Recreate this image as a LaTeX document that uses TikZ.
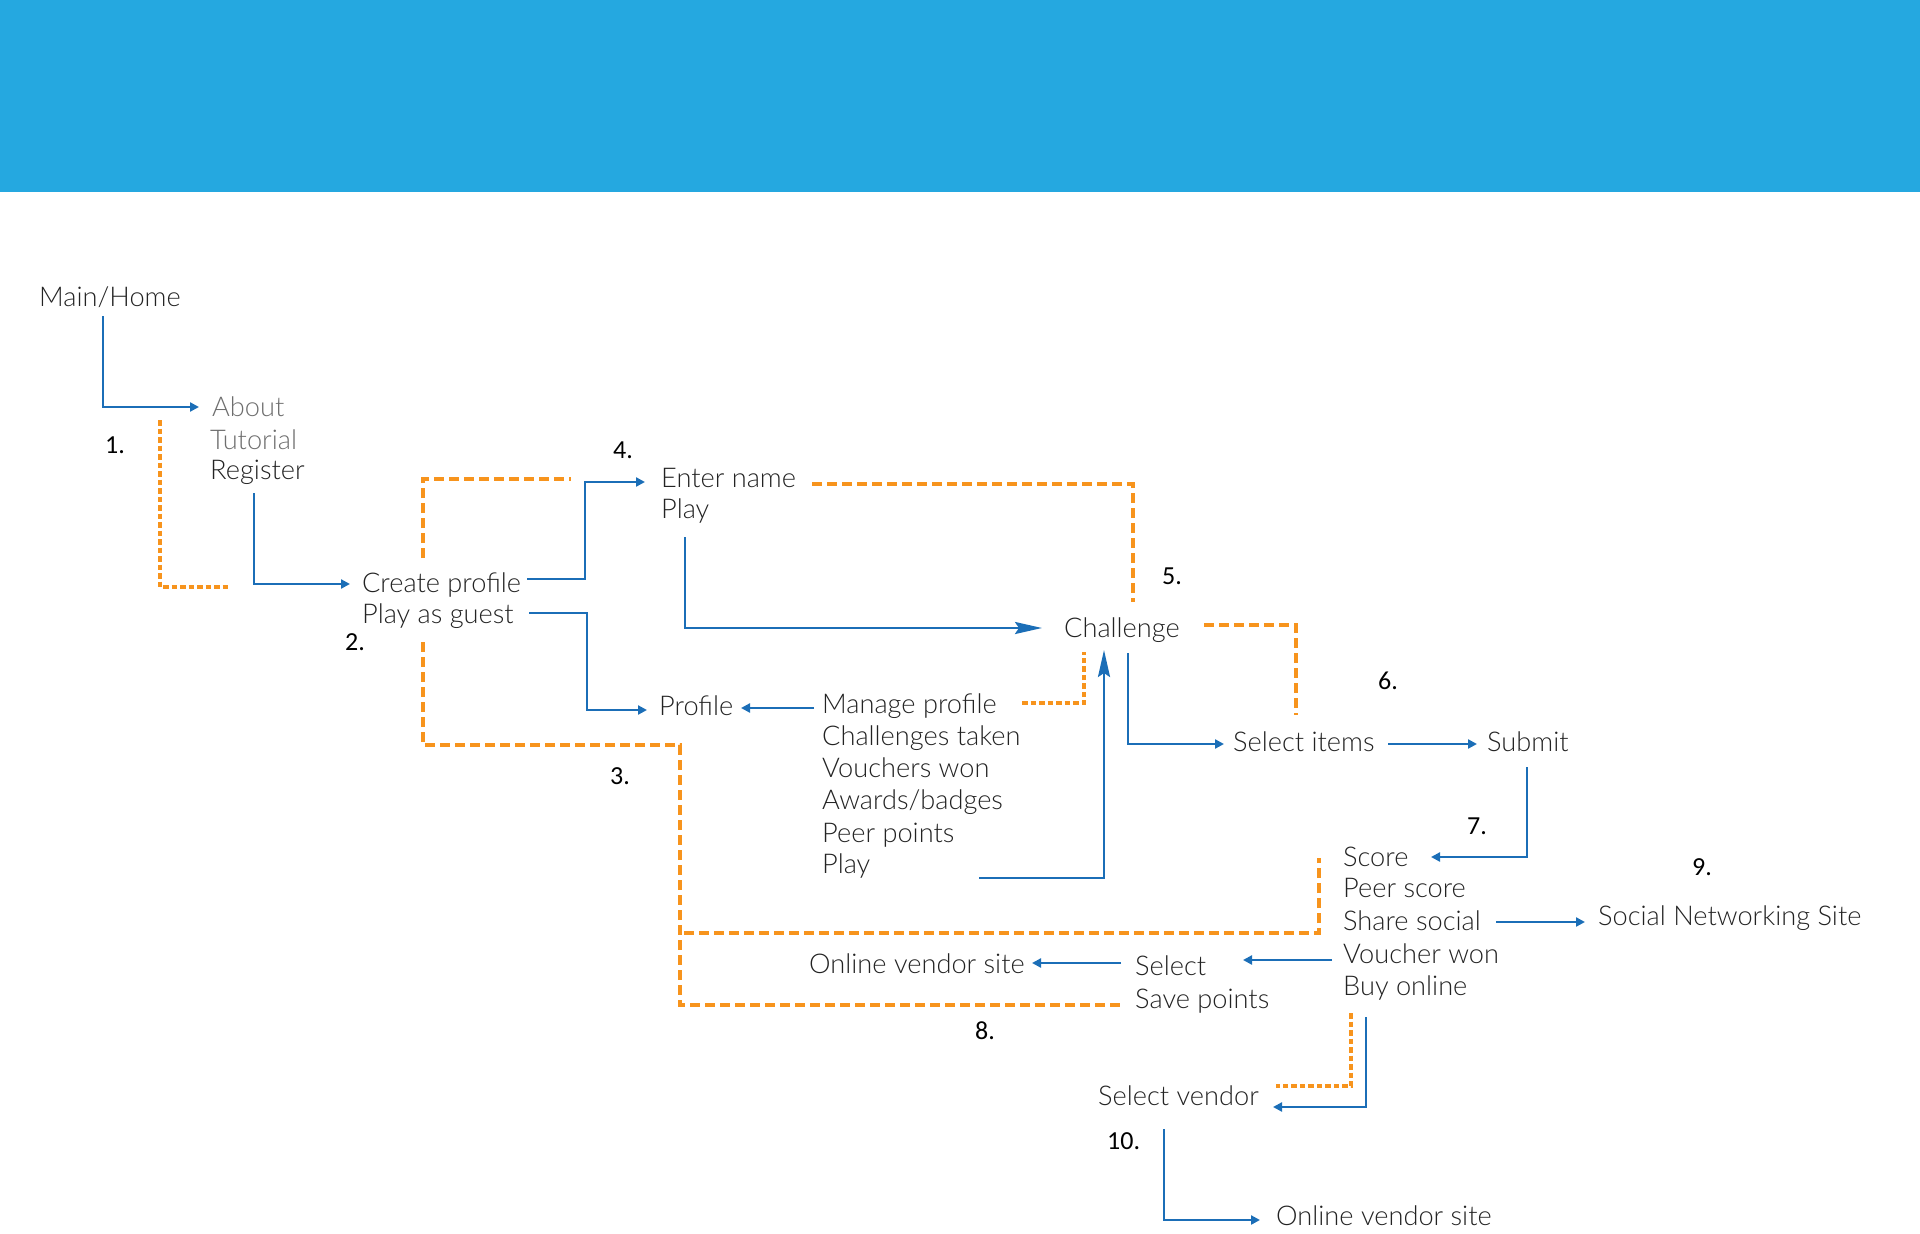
\documentclass[tikz,border=0pt]{standalone}
\usepackage{fontspec}
\usetikzlibrary{arrows.meta}
\newfontfamily\lt{Lato Light}
\newfontfamily\numf{Carlito}
\definecolor{hdr}{RGB}{37,168,224}
\definecolor{bluec}{RGB}{27,110,183}
\definecolor{orc}{RGB}{247,148,29}
\definecolor{txtc}{RGB}{35,35,35}
\definecolor{grayc}{RGB}{110,110,110}
\tikzset{
  txt/.style={font=\lt\fontsize{27.2}{32}\selectfont, text=txtc, anchor=base west, inner sep=0pt},
  gtxt/.style={txt, text=grayc},
  num/.style={font=\numf\fontsize{26}{30}\selectfont, text=black, anchor=base west, inner sep=0pt},
  bl/.style={draw=bluec, line width=2.5pt, -{Triangle[length=9pt,width=9pt]}},
  blbig/.style={draw=bluec, line width=2.5pt, -{Stealth[length=27pt,width=12pt,inset=4pt]}},
  ordot/.style={draw=orc, line width=4pt, dash pattern=on 5.5pt off 3pt},
  ordash/.style={draw=orc, line width=4pt, dash pattern=on 10pt off 5pt},
}
\begin{document}
\begin{tikzpicture}[x=1pt,y=-1pt]
\useasboundingbox (0,0) rectangle (1920,1234);
\fill[hdr] (0,0) rectangle (1920,192);
% texts
\node[txt] (home) at (39,306) {Main/Home};
\node[gtxt] (about) at (212,416) {About};
\node[gtxt] (tut) at (210,449) {Tutorial};
\node[txt] (reg) at (210,479) {Register};
\node[txt] (cp) at (362,592) {Create profile};
\node[txt] (guest) at (362,623) {Play as guest};
\node[txt] (ename) at (661,487) {Enter name};
\node[txt] (play4) at (661,518) {Play};
\node[txt] (chal) at (1064,637) {Challenge};
\node[txt] (prof) at (659,715) {Profile};
\node[txt] (mp) at (822,713) {Manage profile};
\node[txt] (ct) at (822,745) {Challenges taken};
\node[txt] (vw) at (822,777) {Vouchers won};
\node[txt] (ab) at (822,809) {Awards/badges};
\node[txt] (pp) at (822,842) {Peer points};
\node[txt] (playp) at (822,873) {Play};
\node[txt] (si) at (1233,751) {Select items};
\node[txt] (sub) at (1487,751) {Submit};
\node[txt] (score) at (1343,866) {Score};
\node[txt] (ps) at (1343,897) {Peer score};
\node[txt] (ss) at (1343,930) {Share social};
\node[txt] (vwon) at (1343,963) {Voucher won};
\node[txt] (buy) at (1343,995) {Buy online};
\node[txt] (sns) at (1598,925) {Social Networking Site};
\node[txt] (ovs1) at (809,973) {Online vendor site};
\node[txt] (sel) at (1135,975) {Select};
\node[txt] (save) at (1135,1008) {Save points};
\node[txt] (sv) at (1098,1105) {Select vendor};
\node[txt] (ovs2) at (1276,1225) {Online vendor site};
% numbers
\node[num] (n1) at (105,453) {1.};
\node[num] (n2) at (345,650) {2.};
\node[num] (n3) at (610,784) {3.};
\node[num] (n4) at (613,458) {4.};
\node[num] (n5) at (1162,584) {5.};
\node[num] (n6) at (1378,689) {6.};
\node[num] (n7) at (1467,834) {7.};
\node[num] (n8) at (975,1039) {8.};
\node[num] (n9) at (1692,875) {9.};
\node[num] (n10) at (1107,1149) {10.};
% connector end points
\coordinate (a0) at (103,316); \coordinate (a1) at (199,407);
\coordinate (b0) at (254,493); \coordinate (b1) at (350,584);
\coordinate (c0) at (527,579); \coordinate (c1) at (585,579); \coordinate (c2) at (645,482);
\coordinate (d0) at (529,613); \coordinate (d1) at (587,613); \coordinate (d2) at (647,710);
\coordinate (e0) at (685,537); \coordinate (e1) at (1042,628);
\coordinate (f0) at (814,708); \coordinate (f1) at (741,708);
\coordinate (g0) at (979,878); \coordinate (g1) at (1104,650);
\coordinate (h0) at (1128,653); \coordinate (h1) at (1224,744);
\coordinate (i0) at (1388,744); \coordinate (i1) at (1477,744);
\coordinate (j0) at (1527,767); \coordinate (j1) at (1431,857);
\coordinate (k0) at (1496,922); \coordinate (k1) at (1585,922);
\coordinate (l0) at (1332,960); \coordinate (l1) at (1243,960);
\coordinate (m0) at (1121,963); \coordinate (m1) at (1032,963);
\coordinate (o0) at (1366,1017); \coordinate (o1) at (1273,1107);
\coordinate (p0) at (1164,1129); \coordinate (p1) at (1260,1220);
% blue connectors
\draw[bl] (a0) |- (a1);
\draw[bl] (b0) |- (b1);
\draw[bl] (c0) -- (c1) |- (c2);
\draw[bl] (d0) -- (d1) |- (d2);
\draw[blbig] (e0) |- (e1);
\draw[bl] (f0) -- (f1);
\draw[blbig] (g0) -| (g1);
\draw[bl] (h0) |- (h1);
\draw[bl] (i0) -- (i1);
\draw[bl] (j0) |- (j1);
\draw[bl] (k0) -- (k1);
\draw[bl] (l0) -- (l1);
\draw[bl] (m0) -- (m1);
\draw[bl] (o0) |- (o1);
\draw[bl] (p0) |- (p1);
% orange
\coordinate (q0) at (160,420); \coordinate (q1) at (230,587);
\coordinate (r0) at (423,558); \coordinate (r1) at (571,479);
\coordinate (s0) at (423,642); \coordinate (s1) at (680,745); \coordinate (s2) at (680,1005); \coordinate (s3) at (1121,1005);
\coordinate (t0) at (684,933); \coordinate (t1) at (1319,933); \coordinate (t2) at (1319,858);
\coordinate (u0) at (812,484); \coordinate (u1) at (1133,602);
\coordinate (v0) at (1204,625); \coordinate (v1) at (1296,715);
\coordinate (w0) at (1022,703); \coordinate (w1) at (1084,652);
\coordinate (z0) at (1351,1013); \coordinate (z1) at (1276,1086);
\draw[ordot] (q0) |- (q1);
\draw[ordash] (r0) |- (r1);
\draw[ordash] (s0) |- (s1) -- (s2) -- (s3);
\draw[ordash] (t0) -- (t1) -- (t2);
\draw[ordash] (u0) -| (u1);
\draw[ordash] (v0) -| (v1);
\draw[ordot] (w0) -| (w1);
\draw[ordot] (z0) |- (z1);
\end{tikzpicture}
\end{document}
